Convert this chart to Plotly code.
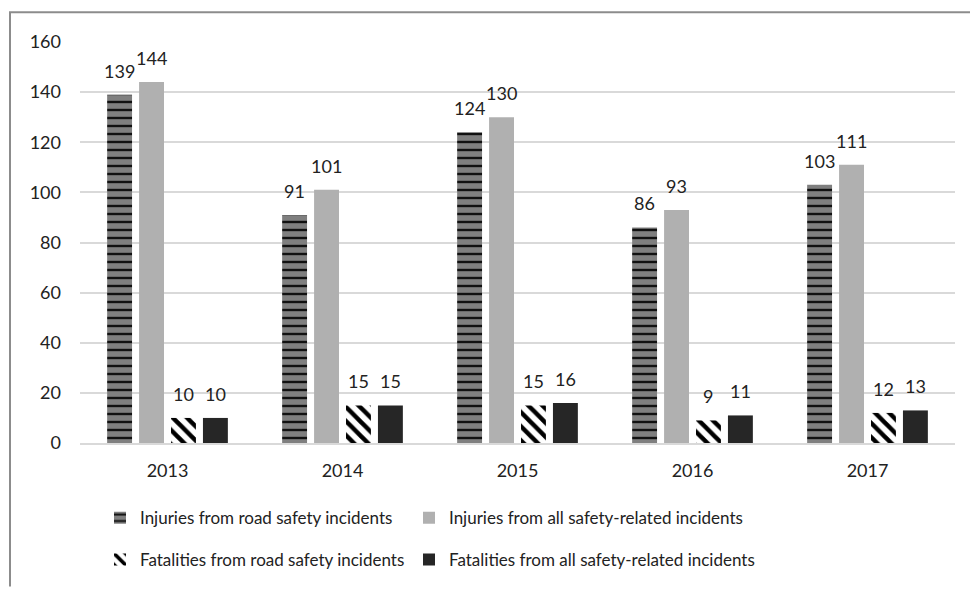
import plotly.graph_objects as go

years = ["2013", "2014", "2015", "2016", "2017"]
inj_road = [139, 91, 124, 86, 103]
inj_all = [144, 101, 130, 93, 111]
fat_road = [10, 15, 15, 9, 12]
fat_all = [10, 15, 16, 11, 13]

names = [
    "Injuries from road safety incidents",
    "Injuries from all safety-related incidents",
    "Fatalities from road safety incidents",
    "Fatalities from all safety-related incidents",
]

FONT = "Lato, 'Open Sans', sans-serif"
TXT = "#222222"

L, R, T, B = 80, 15, 42, 143
W, H = 970, 590
pw, ph = W - L - R, H - T - B
BARGAP, GROUPGAP = 0.27, 0.22

def px(x):
    return (x - L) / pw

def py(y):
    return (H - B - y) / ph

fig = go.Figure()
fig.add_trace(go.Bar(
    x=years, y=inj_road, name=names[0], legend="legend",
    marker=dict(color="#7f7f7f", line=dict(width=0),
                pattern=dict(shape="-", fgcolor="#111111", bgcolor="#7f7f7f",
                             fgopacity=1, size=8, solidity=0.3, fillmode="overlay")),
))
fig.add_trace(go.Bar(
    x=years, y=inj_all, name=names[1], legend="legend2",
    marker=dict(color="#b0b0b0", line=dict(width=0)),
))
fig.add_trace(go.Bar(
    x=years, y=fat_road, name=names[2], legend="legend3",
    marker=dict(color="white", line=dict(width=0),
                pattern=dict(shape="\\", fgcolor="black", bgcolor="white",
                             fgopacity=1, size=10, solidity=0.45, fillmode="overlay")),
))
fig.add_trace(go.Bar(
    x=years, y=fat_all, name=names[3], legend="legend4",
    marker=dict(color="#262626", line=dict(width=0)),
))

# data labels as annotations above each bar (x given as category index)
cat_w = pw / len(years)
slot = cat_w * (1 - BARGAP) / 4
annotations = []
for i, series in enumerate([inj_road, inj_all, fat_road, fat_all]):
    for j, v in enumerate(series):
        annotations.append(dict(
            x=j, y=v, xref="x", yref="y", text=str(v), showarrow=False,
            xshift=(i - 1.5) * slot, yshift=11, yanchor="bottom",
            font=dict(size=18, color=TXT, family=FONT),
        ))

def leg(xpix, ypix):
    return dict(orientation="h", x=px(xpix), y=py(ypix), yanchor="middle", xanchor="left",
                font=dict(size=17, color=TXT), itemwidth=30, bgcolor="rgba(0,0,0,0)")

fig.update_layout(
    width=W, height=H,
    margin=dict(l=L, r=R, t=T, b=B),
    paper_bgcolor="white", plot_bgcolor="white",
    font=dict(family=FONT, size=18, color=TXT),
    barmode="group", bargap=BARGAP, bargroupgap=GROUPGAP,
    xaxis=dict(type="category", range=[-0.5, len(years) - 0.5], showgrid=False,
               showline=True, linecolor="#d9d9d9",
               linewidth=1.5, ticks="", ticklabelstandoff=11,
               tickfont=dict(size=18, color=TXT)),
    yaxis=dict(range=[0, 160], dtick=20, showgrid=True, gridcolor="#d9d9d9",
               gridwidth=1.5, zeroline=False, showline=False, ticks="",
               ticklabelstandoff=18, tickfont=dict(size=18, color=TXT)),
    showlegend=True,
    legend=leg(100, 523),
    legend2=leg(409, 523),
    legend3=leg(100, 565),
    legend4=leg(409, 565),
    annotations=annotations,
    shapes=[
        dict(type="line", xref="paper", yref="paper", x0=px(10), x1=px(10),
             y0=py(12), y1=py(592), line=dict(color="#8c8c8c", width=2)),
        dict(type="line", xref="paper", yref="paper", x0=px(9), x1=px(972),
             y0=py(12), y1=py(12), line=dict(color="#8c8c8c", width=2)),
    ],
)

fig.write_html("out.html", config={"displayModeBar": False},
               post_script="document.body.style.margin='0';document.body.style.overflow='hidden';")
